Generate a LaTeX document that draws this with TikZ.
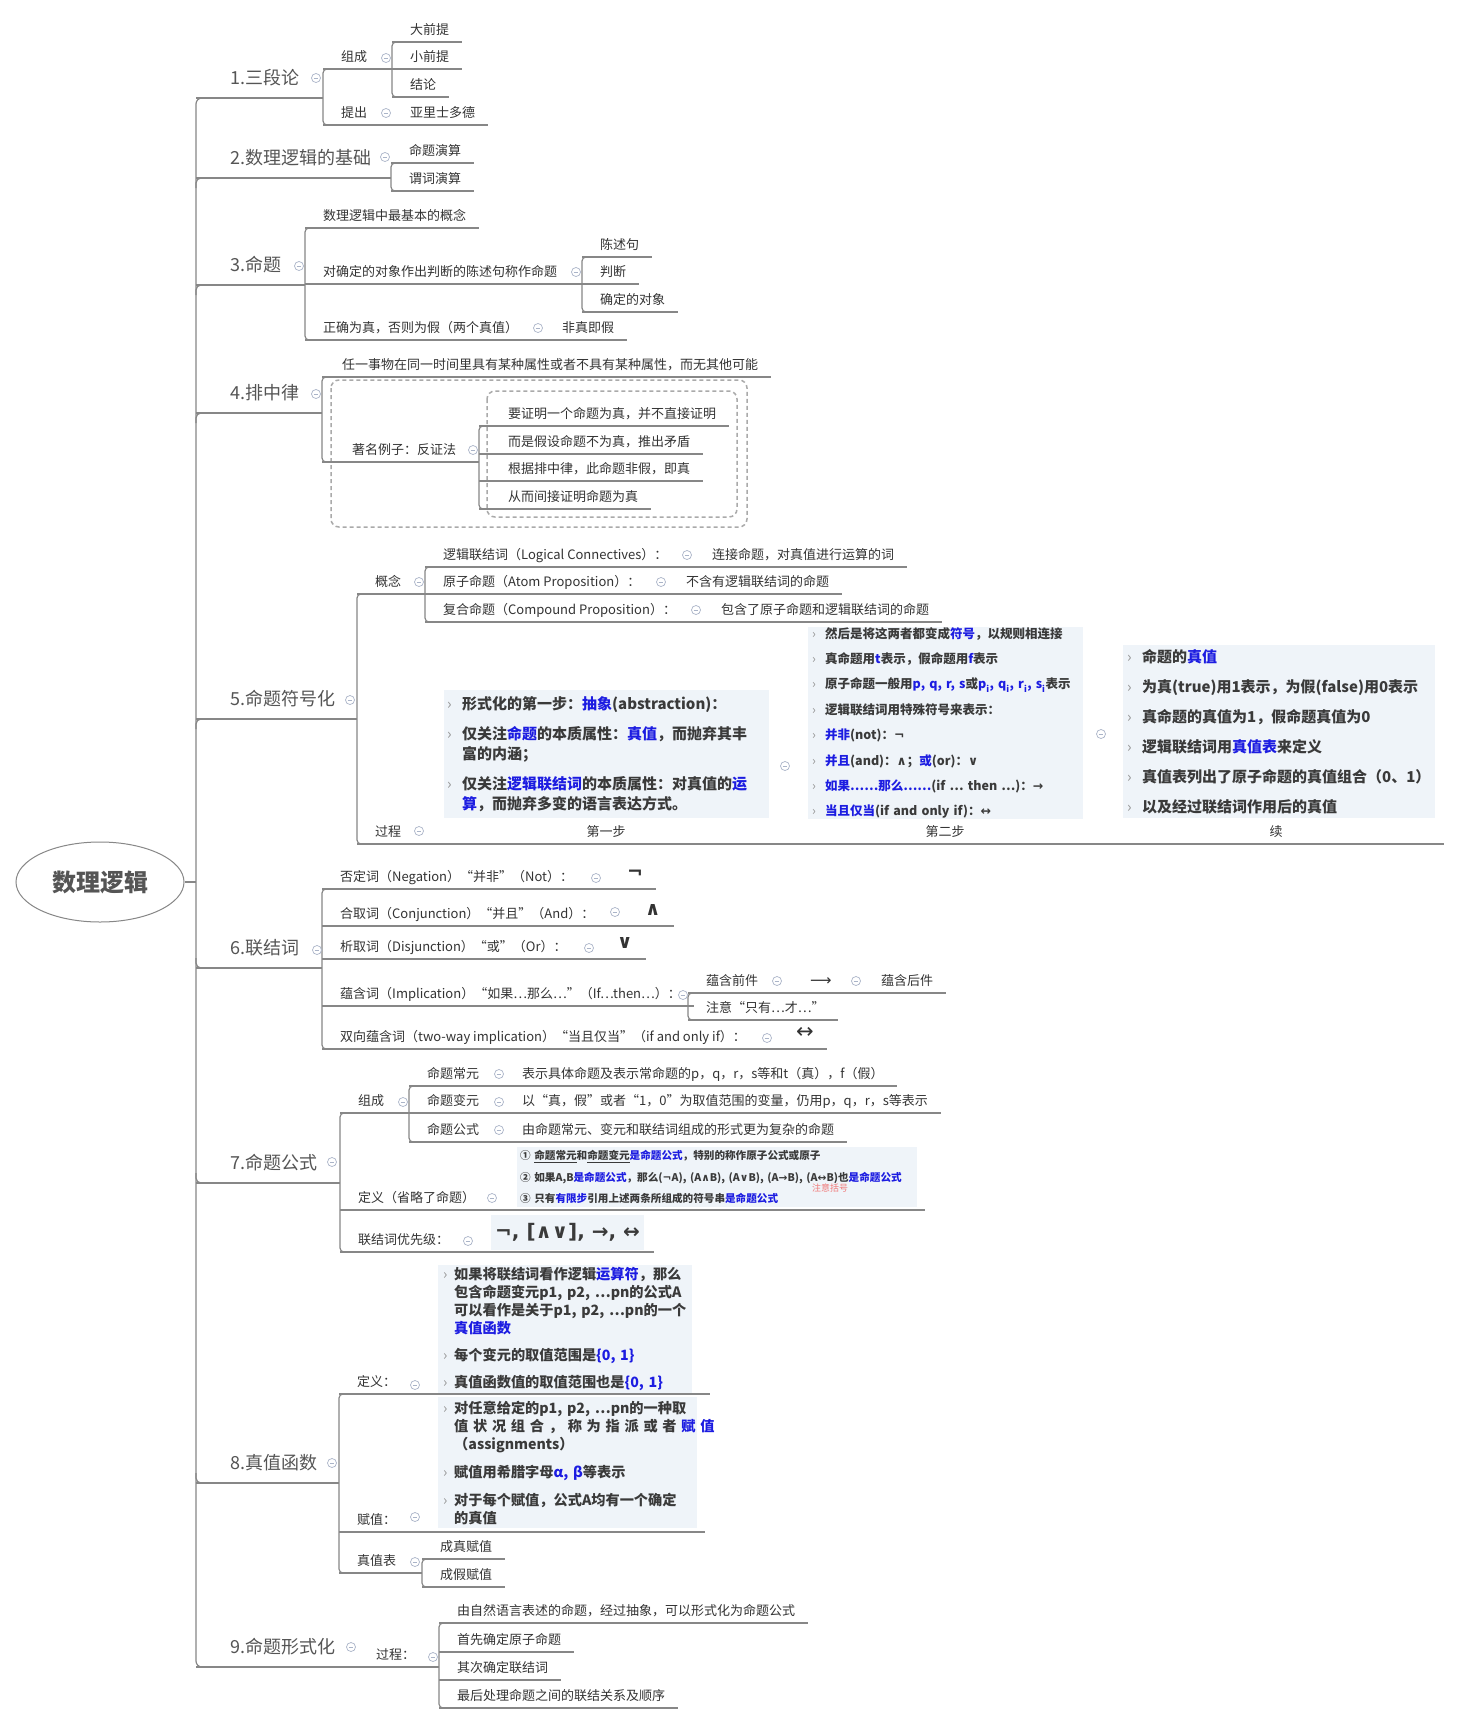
\documentclass[tikz,border=0pt]{standalone}
\usepackage{fontspec}
\setmainfont{Noto Sans CJK SC}
\newfontfamily\symf{DejaVu Sans}
\usetikzlibrary{shapes.geometric}

\definecolor{linec}{RGB}{135,135,135}
\definecolor{txt}{RGB}{51,51,51}
\definecolor{maintxt}{RGB}{85,85,85}
\definecolor{foldc}{RGB}{170,180,200}
\definecolor{picbg}{RGB}{239,244,249}
\definecolor{pictxt}{RGB}{58,58,58}
\definecolor{hlblue}{RGB}{28,28,225}
\definecolor{bulc}{RGB}{150,150,150}
\definecolor{boundc}{RGB}{170,170,170}
\definecolor{notered}{RGB}{240,120,120}

\newcommand\fsz[1]{\fontsize{#1}{#1}\selectfont}
\newcommand\hl[1]{\textcolor{hlblue}{#1}}
\newcommand\sy[1]{{\symf #1}}
\newcommand\bul[1][15pt]{\makebox[#1][l]{\textcolor{bulc}{\mdseries ›}}}
\newcommand\ind[1][15pt]{\hspace*{#1}}

\tikzset{
  ln/.style={draw=linec, line width=1.2pt},
  leaf/.style={anchor=south west, inner sep=0pt, text depth=7pt, font=\fsz{13}, text=txt,
    execute at begin node=\hspace*{#1}, execute at end node=\hspace*{13pt},
    append after command={(\tikzlastnode.south west) edge[ln] (\tikzlastnode.south east)}},
  leaf/.default=18pt,
  main/.style={leaf=34pt, font=\fsz{18}, text=maintxt, text depth=13pt},
  sym/.style={leaf=18pt, font=\symf\bfseries\fsz{19}, text depth=10pt},
  lab/.style={anchor=south, inner sep=0pt, text depth=7pt, font=\fsz{13}, text=txt,
    append after command={(\tikzlastnode.south west) edge[ln] (\tikzlastnode.south east)}},
  fold/.style={circle, draw=foldc, fill=white, line width=0.7pt, minimum size=9pt, inner sep=0pt,
    path picture={\draw[foldc, line width=0.7pt] ([xshift=-2.4pt]path picture bounding box.center) -- ([xshift=2.4pt]path picture bounding box.center);}},
  picbox/.style={anchor=north west, fill=picbg, align=left, text=pictxt, inner ysep=0pt},
  bound/.style={draw=boundc, line width=1.5pt, rounded corners=8pt, dash pattern=on 4pt off 3pt},
}

\begin{document}
\begin{tikzpicture}[x=1pt,y=-1pt]
  \path[use as bounding box, fill=white] (0,0) rectangle (1460,1724);

  % root
  \node[ellipse, draw=linec, line width=1pt, minimum width=168pt, minimum height=80pt, font=\bfseries\fsz{24}, text=maintxt] (root) at (100,882) {数理逻辑};

  % main topics
  \node[main] (s1) at (196,98) {1.三段论};
  \node[main] (s2) at (196,178) {2.数理逻辑的基础};
  \node[main] (s3) at (196,285) {3.命题};
  \node[main] (s4) at (196,413) {4.排中律};
  \node[main] (s5) at (196,719) {5.命题符号化};
  \node[main] (s6) at (196,968) {6.联结词};
  \node[main] (s7) at (196,1183) {7.命题公式};
  \node[main] (s8) at (196,1483) {8.真值函数};
  \node[main] (s9) at (196,1667) {9.命题形式化};

  \draw[ln] (root.east) -- (root.east -| s1.south west);
  \draw[ln, rounded corners=6pt] ([xshift=16pt]s1.south west) -- (s1.south west) -- (s9.south west) -- ([xshift=16pt]s9.south west);
  \foreach \s in {s2,s3,s4,s5}
    \draw[ln, rounded corners=5pt] ([yshift=-10pt]\s.south west) -- (\s.south west) -- ([xshift=12pt]\s.south west);
  \foreach \s in {s6,s7,s8}
    \draw[ln, rounded corners=5pt] ([yshift=10pt]\s.south west) -- (\s.south west) -- ([xshift=12pt]\s.south west);

  % 1
  \node[leaf] (a1) at (323,69) {组成};
  \node[leaf] (a2) at (323,125) {提出};
  \node[leaf] (b1) at (392,42) {大前提};
  \node[leaf] (b2) at (392,69) {小前提};
  \node[leaf] (b3) at (392,97) {结论};
  \node[leaf] (b4) at (392,125) {亚里士多德};
  \draw[ln] (s1.south west) -- (s1.south west -| a1.south west);
  \draw[ln, rounded corners=4pt] ([xshift=14pt]a1.south west) -- (a1.south west) -- (a2.south west) -- ([xshift=14pt]a2.south west);
  \draw[ln] (a1.south west) -- (a1.south west -| b1.south west);
  \draw[ln, rounded corners=4pt] ([xshift=14pt]b1.south west) -- (b1.south west) -- (b3.south west) -- ([xshift=14pt]b3.south west);
  \draw[ln] (a2.south west) -- (b4.south west);
  \node[fold] (f1) at (316,78) {};
  \node[fold] (f1a) at (386,58) {};
  \node[fold] (f1b) at (386,113) {};

  % 2
  \node[leaf] (c1) at (391,163) {命题演算};
  \node[leaf] (c2) at (391,191) {谓词演算};
  \draw[ln] (s2.south west) -- (s2.south west -| c1.south west);
  \draw[ln, rounded corners=4pt] ([xshift=14pt]c1.south west) -- (c1.south west) -- (c2.south west) -- ([xshift=14pt]c2.south west);
  \node[fold] (f2) at (385,157) {};

  % 3
  \node[leaf] (d1) at (305,228) {数理逻辑中最基本的概念};
  \node[leaf] (d2) at (305,284) {对确定的对象作出判断的陈述句称作命题};
  \node[leaf] (d3) at (305,340) {正确为真，否则为假（两个真值）};
  \node[leaf] (e1) at (582,257) {陈述句};
  \node[leaf] (e2) at (582,284) {判断};
  \node[leaf] (e3) at (582,312) {确定的对象};
  \node[leaf] (e4) at (544,340) {非真即假};
  \draw[ln] (s3.south west) -- (s3.south west -| d1.south west);
  \draw[ln, rounded corners=4pt] ([xshift=14pt]d1.south west) -- (d1.south west) -- (d3.south west) -- ([xshift=14pt]d3.south west);
  \draw[ln] (d2.south west) -- (d2.south west -| e1.south west);
  \draw[ln, rounded corners=4pt] ([xshift=14pt]e1.south west) -- (e1.south west) -- (e3.south west) -- ([xshift=14pt]e3.south west);
  \draw[ln] (d3.south west) -- (e4.south west);
  \node[fold] (f3) at (299,266) {};
  \node[fold] (f3a) at (576,272) {};
  \node[fold] (f3b) at (538,328) {};

  % 4
  \draw[bound] (331,380) rectangle (747,527);
  \draw[bound] (487,391) rectangle (737,517);
  \node[leaf=20pt] (g1) at (322,377) {任一事物在同一时间里具有某种属性或者不具有某种属性，而无其他可能};
  \node[leaf=30pt] (g2) at (322,462) {著名例子：反证法};
  \node[leaf=29pt] (h1) at (479,426) {要证明一个命题为真，并不直接证明};
  \node[leaf=29pt] (h2) at (479,454) {而是假设命题不为真，推出矛盾};
  \node[leaf=29pt] (h3) at (479,481) {根据排中律，此命题非假，即真};
  \node[leaf=29pt] (h4) at (479,509) {从而间接证明命题为真};
  \draw[ln] (s4.south west) -- (s4.south west -| g1.south west);
  \draw[ln, rounded corners=4pt] ([xshift=14pt]g1.south west) -- (g1.south west) -- (g2.south west) -- ([xshift=14pt]g2.south west);
  \draw[ln] (g2.south west) -- (g2.south west -| h1.south west);
  \draw[ln, rounded corners=4pt] ([xshift=14pt]h1.south west) -- (h1.south west) -- (h4.south west) -- ([xshift=14pt]h4.south west);
  \node[fold] (f4) at (316,394) {};
  \node[fold] (f4a) at (473,450) {};

  % 5
  \node[leaf] (k1) at (357,594) {概念};
  \node[leaf] (k2) at (357,844) {过程};
  \node[leaf] (m1) at (425,567) {逻辑联结词（Logical Connectives）：};
  \node[leaf] (m2) at (425,594) {原子命题（Atom Proposition）：};
  \node[leaf] (m3) at (425,622) {复合命题（Compound Proposition）：};
  \node[leaf] (n1) at (694,567) {连接命题，对真值进行运算的词};
  \node[leaf] (n2) at (668,594) {不含有逻辑联结词的命题};
  \node[leaf] (n3) at (703,622) {包含了原子命题和逻辑联结词的命题};
  \draw[ln] (s5.south west) -- (s5.south west -| k1.south west);
  \draw[ln, rounded corners=4pt] ([xshift=14pt]k1.south west) -- (k1.south west) -- (k2.south west) -- ([xshift=14pt]k2.south west);
  \draw[ln] (k1.south west) -- (k1.south west -| m1.south west);
  \draw[ln, rounded corners=4pt] ([xshift=14pt]m1.south west) -- (m1.south west) -- (m3.south west) -- ([xshift=14pt]m3.south west);
  \draw[ln] (m1.south west) -- (n1.south west);
  \draw[ln] (m2.south west) -- (n2.south west);
  \draw[ln] (m3.south west) -- (n3.south west);

  \node[picbox, text width=319pt, minimum height=128pt, inner xsep=3pt, font=\bfseries\fontsize{15}{20}\selectfont] (img1) at (444,690) {%
    \bul 形式化的第一步：\hl{抽象}(abstraction)：\\[10pt]
    \bul 仅关注\hl{命题}的本质属性：\hl{真值}，而抛弃其丰\\
    \ind 富的内涵；\\[10pt]
    \bul 仅关注\hl{逻辑联结词}的本质属性：对真值的\hl{运}\\
    \ind \hl{算}，而抛弃多变的语言表达方式。};
  \node[picbox, text width=267pt, minimum height=190pt, inner xsep=4pt, font=\bfseries\fontsize{12.5}{25.4}\selectfont] (img2) at (808,627) {%
    \bul[13pt]然后是将这两者都变成\hl{符号}，以规则相连接\\
    \bul[13pt]真命题用\hl{t}表示，假命题用\hl{f}表示\\
    \bul[13pt]原子命题一般用\hl{p, q, r, s}或\hl{p\textsubscript{i}, q\textsubscript{i}, r\textsubscript{i}, s\textsubscript{i}}表示\\
    \bul[13pt]逻辑联结词用特殊符号来表示：\\
    \bul[13pt]\hl{并非}(not)：\sy{¬}\\
    \bul[13pt]\hl{并且}(and)：\sy{∧}；\hl{或}(or)：\sy{∨}\\
    \bul[13pt]\hl{如果……那么……}(if … then …)：\sy{→}\\
    \bul[13pt]\hl{当且仅当}(if and only if)：\sy{↔}};
  \node[picbox, text width=304pt, minimum height=173pt, inner xsep=4pt, font=\bfseries\fontsize{15}{30}\selectfont] (img3) at (1123,645) {%
    \bul 命题的\hl{真值}\\
    \bul 为真(true)用1表示，为假(false)用0表示\\
    \bul 真命题的真值为1，假命题真值为0\\
    \bul 逻辑联结词用\hl{真值表}来定义\\
    \bul 真值表列出了原子命题的真值组合（0、1）\\
    \bul 以及经过联结词作用后的真值};
  \node[lab, minimum width=358pt] (l1) at (606,844) {第一步};
  \node[lab, minimum width=306pt] (l2) at (945,844) {第二步};
  \node[lab, minimum width=336pt] (l3) at (1276,844) {续};
  \draw[ln] (k2.south west) -- (l3.south east);
  \node[fold] (f5) at (350,700) {};
  \node[fold] (f5a) at (419,582) {};
  \node[fold] (f5b) at (687,555) {};
  \node[fold] (f5c) at (661,582) {};
  \node[fold] (f5d) at (696,610) {};
  \node[fold] (f5e) at (419,831) {};
  \node[fold] (f5f) at (785,766) {};
  \node[fold] (f5g) at (1101,734) {};

  % 6
  \node[leaf] (t1) at (322,889) {否定词（Negation）“并非”（Not）：};
  \node[leaf] (t2) at (322,926) {合取词（Conjunction）“并且”（And）：};
  \node[leaf] (t3) at (322,959) {析取词（Disjunction）“或”（Or）：};
  \node[leaf] (t4) at (322,1006) {蕴含词（Implication）“如果…那么…”（If…then…）：};
  \node[leaf] (t5) at (322,1049) {双向蕴含词（two-way implication）“当且仅当”（if and only if）：};
  \node[sym] (u1) at (609,889) {¬};
  \node[sym] (u2) at (627,926) {∧};
  \node[sym] (u3) at (599,959) {∨};
  \node[sym, font=\symf\fsz{21}] (u5) at (778,1049) {↔};
  \node[leaf] (v1) at (688,993) {蕴含前件};
  \node[leaf] (v2) at (688,1020) {注意“只有…才…”};
  \node[leaf, font=\symf\fsz{15}] (w1) at (792,993) {⟶};
  \node[leaf] (w2) at (863,993) {蕴含后件};
  \draw[ln] (s6.south west) -- (s6.south west -| t1.south west);
  \draw[ln, rounded corners=4pt] ([xshift=14pt]t1.south west) -- (t1.south west) -- (t5.south west) -- ([xshift=14pt]t5.south west);
  \draw[ln] (t1.south west) -- (u1.south west);
  \draw[ln] (t2.south west) -- (u2.south west);
  \draw[ln] (t3.south west) -- (u3.south west);
  \draw[ln] (t5.south west) -- (u5.south west);
  \draw[ln] (t4.south west) -- (t4.south west -| v1.south west);
  \draw[ln, rounded corners=4pt] ([xshift=14pt]v1.south west) -- (v1.south west) -- (v2.south west) -- ([xshift=14pt]v2.south west);
  \draw[ln] (v1.south west) -- (w1.south west) -- (w2.south west);
  \node[fold] (f6) at (317,950) {};
  \node[fold] (f6a) at (596,878) {};
  \node[fold] (f6b) at (615,912) {};
  \node[fold] (f6c) at (589,948) {};
  \node[fold] (f6d) at (683,995) {};
  \node[fold] (f6e) at (777,981) {};
  \node[fold] (f6f) at (856,981) {};
  \node[fold] (f6g) at (767,1038) {};

  % 7
  \node[leaf] (x1) at (340,1113) {组成};
  \node[leaf] (x2) at (340,1210) {定义（省略了命题）};
  \node[leaf] (x3) at (340,1252) {联结词优先级：};
  \node[leaf] (y1) at (409,1086) {命题常元};
  \node[leaf] (y2) at (409,1113) {命题变元};
  \node[leaf] (y3) at (409,1142) {命题公式};
  \node[leaf] (z1) at (504,1086) {表示具体命题及表示常命题的p，q，r，s等和t（真），f（假）};
  \node[leaf] (z2) at (504,1113) {以“真，假”或者“1，0”为取值范围的变量，仍用p，q，r，s等表示};
  \node[leaf] (z3) at (504,1142) {由命题常元、变元和联结词组成的形式更为复杂的命题};
  \node[picbox, text width=394pt, minimum height=60pt, inner xsep=3pt, font=\bfseries\fontsize{10.6}{21.5}\selectfont] (img4) at (517,1147) {%
    \mbox{① \underline{命题常元}和\underline{命题变元}\hl{是命题公式}，特别的称作原子公式或原子}\\
    \mbox{② 如果A,B\hl{是命题公式}，那么(\sy{¬}A), (A\sy{∧}B), (A\sy{∨}B), (A\sy{→}B), (A\sy{↔}B)也\hl{是命题公式}}\\
    \mbox{③ 只有\hl{有限步}引用上述两条所组成的符号串\hl{是命题公式}}};
  \node[font=\fsz{9}, text=notered, inner sep=0pt] (nt) at (830,1188) {注意括号};
  \node[picbox, inner xsep=4pt, minimum height=35pt, font=\symf\bfseries\fsz{20}] (img5) at (491,1215) {¬, [∧∨], →, ↔};
  \draw[ln] (s7.south west) -- (s7.south west -| x1.south west);
  \draw[ln, rounded corners=4pt] ([xshift=14pt]x1.south west) -- (x1.south west) -- (x3.south west) -- ([xshift=14pt]x3.south west);
  \draw[ln] (x1.south west) -- (x1.south west -| y1.south west);
  \draw[ln, rounded corners=4pt] ([xshift=14pt]y1.south west) -- (y1.south west) -- (y3.south west) -- ([xshift=14pt]y3.south west);
  \draw[ln] (y1.south west) -- (z1.south west);
  \draw[ln] (y2.south west) -- (z2.south west);
  \draw[ln] (y3.south west) -- (z3.south west);
  \draw[ln] (x2.south west) -- ([xshift=8pt]img4.south east |- x2.south);
  \draw[ln] (x3.south west) -- ([xshift=10pt]img5.south east |- x3.south);
  \node[fold] (f7) at (332,1162) {};
  \node[fold] (f7a) at (403,1102) {};
  \node[fold] (f7b) at (499,1074) {};
  \node[fold] (f7c) at (499,1102) {};
  \node[fold] (f7d) at (499,1130) {};
  \node[fold] (f7e) at (492,1198) {};
  \node[fold] (f7f) at (468,1241) {};

  % 8
  \node[leaf] (r1) at (339,1394) {定义：};
  \node[leaf] (r2) at (339,1532) {赋值：};
  \node[leaf] (r3) at (339,1573) {真值表};
  \node[leaf] (r4) at (422,1559) {成真赋值};
  \node[leaf] (r5) at (422,1587) {成假赋值};
  \node[picbox, text width=244pt, minimum height=128pt, inner xsep=5pt, font=\bfseries\fontsize{14.2}{18}\selectfont] (img6) at (438,1265) {%
    \mbox{\bul[11pt]如果将联结词看作逻辑\hl{运算符}，那么}\\
    \mbox{\ind[11pt]包含命题变元p1, p2, …pn的公式A}\\
    \mbox{\ind[11pt]可以看作是关于p1, p2, …pn的一个}\\
    \mbox{\ind[11pt]\hl{真值函数}}\\[9pt]
    \mbox{\bul[11pt]每个变元的取值范围是\hl{\{0, 1\}}}\\[9pt]
    \mbox{\bul[11pt]真值函数值的取值范围也是\hl{\{0, 1\}}}};
  \node[picbox, text width=249pt, minimum height=131pt, inner xsep=5pt, font=\bfseries\fontsize{14.2}{18}\selectfont] (img7) at (438,1397) {%
    \mbox{\bul[11pt]对任意给定的p1, p2, …pn的一种取}\\
    \ind[11pt]\makebox[236pt][s]{值 状 况 组 合 ， 称 为 指 派 或 者 \hl{赋 值}}\\
    \ind[11pt]（assignments）\\[10pt]
    \mbox{\bul[11pt]赋值用希腊字母\hl{α, β}等表示}\\[10pt]
    \mbox{\bul[11pt]对于每个赋值，公式A均有一个确定}\\
    \ind[11pt]的真值};
  \draw[ln] (s8.south west) -- (s8.south west -| r1.south west);
  \draw[ln, rounded corners=4pt] ([xshift=14pt]r1.south west) -- (r1.south west) -- (r3.south west) -- ([xshift=14pt]r3.south west);
  \draw[ln] (r1.south west) -- ([xshift=18pt]img6.south east |- r1.south);
  \draw[ln] (r2.south west) -- ([xshift=8pt]img7.south east |- r2.south);
  \draw[ln] (r3.south west) -- (r3.south west -| r4.south west);
  \draw[ln, rounded corners=4pt] ([xshift=14pt]r4.south west) -- (r4.south west) -- (r5.south west) -- ([xshift=14pt]r5.south west);
  \node[fold] (f8) at (332,1463) {};
  \node[fold] (f8a) at (415,1385) {};
  \node[fold] (f8b) at (415,1517) {};
  \node[fold] (f8c) at (415,1562) {};

  % 9
  \node[leaf] (o1) at (358,1667) {过程：};
  \node[leaf] (o2) at (439,1623) {由自然语言表述的命题，经过抽象，可以形式化为命题公式};
  \node[leaf] (o3) at (439,1652) {首先确定原子命题};
  \node[leaf] (o4) at (439,1680) {其次确定联结词};
  \node[leaf] (o5) at (439,1708) {最后处理命题之间的联结关系及顺序};
  \draw[ln] (s9.south west) -- (o1.south west);
  \draw[ln] (o1.south west) -- (o1.south west -| o2.south west);
  \draw[ln, rounded corners=4pt] ([xshift=14pt]o2.south west) -- (o2.south west) -- (o5.south west) -- ([xshift=14pt]o5.south west);
  \node[fold] (f9) at (351,1647) {};
  \node[fold] (f9a) at (433,1657) {};
\end{tikzpicture}
\end{document}
